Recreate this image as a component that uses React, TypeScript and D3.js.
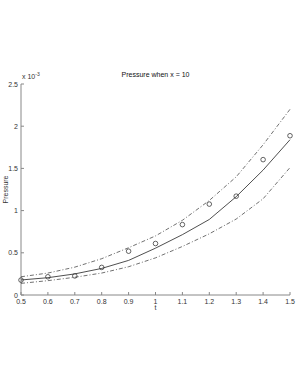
import { useEffect, useRef } from 'react';
import * as d3 from 'd3';

const tValues = [0.5, 0.6, 0.7, 0.8, 0.9, 1.0, 1.1, 1.2, 1.3, 1.4, 1.5];
const observed = [0.177, 0.216, 0.226, 0.327, 0.519, 0.61, 0.834, 1.077, 1.171, 1.604, 1.887];
const fitted = [0.178, 0.205, 0.25, 0.315, 0.41, 0.555, 0.715, 0.895, 1.165, 1.48, 1.84];
const upperBound = [0.216, 0.26, 0.33, 0.43, 0.56, 0.7, 0.885, 1.12, 1.4, 1.78, 2.2];
const lowerBound = [0.138, 0.17, 0.21, 0.26, 0.335, 0.44, 0.575, 0.725, 0.9, 1.14, 1.51];
const xTicks = [0.5, 0.6, 0.7, 0.8, 0.9, 1, 1.1, 1.2, 1.3, 1.4, 1.5];
const yTicks = [0, 0.5, 1, 1.5, 2, 2.5];

const W = 297;
const H = 384;

export default function App() {
  const ref = useRef<SVGSVGElement>(null);

  useEffect(() => {
    if (!ref.current) return;
    const svg = d3.select(ref.current);
    svg.selectAll('*').remove();

    const x = d3.scaleLinear().domain([0.5, 1.5]).range([21, 290]);
    const y = d3.scaleLinear().domain([0, 2.5]).range([295, 84]);
    const font = 'Liberation Sans, Arial, sans-serif';
    const axisColor = '#888';
    const textColor = '#333';

    svg.append('rect').attr('width', W).attr('height', H).attr('fill', '#fff');

    // axes (box off, ticks inside)
    svg.append('line').attr('x1', x(0.5)).attr('x2', x(1.5)).attr('y1', y(0)).attr('y2', y(0))
      .attr('stroke', axisColor).attr('stroke-width', 1);
    svg.append('line').attr('x1', x(0.5)).attr('x2', x(0.5)).attr('y1', y(0)).attr('y2', y(2.5))
      .attr('stroke', axisColor).attr('stroke-width', 1);

    xTicks.forEach((t) => {
      svg.append('line').attr('x1', x(t)).attr('x2', x(t)).attr('y1', y(0)).attr('y2', y(0) - 3)
        .attr('stroke', axisColor);
      svg.append('text').attr('x', x(t)).attr('y', y(0) + 9).attr('text-anchor', 'middle')
        .attr('font-family', font).attr('font-size', 7).attr('fill', textColor).text(String(t));
    });
    yTicks.forEach((v) => {
      svg.append('line').attr('x1', x(0.5)).attr('x2', x(0.5) + 3).attr('y1', y(v)).attr('y2', y(v))
        .attr('stroke', axisColor);
      svg.append('text').attr('x', x(0.5) - 3).attr('y', y(v) + 2.5).attr('text-anchor', 'end')
        .attr('font-family', font).attr('font-size', 7).attr('fill', textColor).text(String(v));
    });

    // exponent
    const ex = svg.append('text').attr('x', x(0.5) + 1).attr('y', 79)
      .attr('font-family', font).attr('font-size', 7).attr('fill', textColor);
    ex.append('tspan').text('x 10');
    ex.append('tspan').attr('dy', -3).attr('font-size', 5).text('-3');

    svg.append('text').attr('x', (x(0.5) + x(1.5)) / 2).attr('y', 77).attr('text-anchor', 'middle')
      .attr('font-family', font).attr('font-size', 7).attr('fill', '#111').text('Pressure when x = 10');
    svg.append('text').attr('x', (x(0.5) + x(1.5)) / 2).attr('y', 310).attr('text-anchor', 'middle')
      .attr('font-family', font).attr('font-size', 7).attr('fill', textColor).text('t');
    svg.append('text').attr('transform', `translate(8,${(y(0) + y(2.5)) / 2}) rotate(-90)`)
      .attr('text-anchor', 'middle').attr('font-family', font).attr('font-size', 7)
      .attr('fill', textColor).text('Pressure');

    const line = d3.line<number>().x((_, i) => x(tValues[i])).y((d) => y(d));

    svg.append('path').datum(fitted).attr('d', line).attr('fill', 'none')
      .attr('stroke', '#222').attr('stroke-width', 0.8);
    [upperBound, lowerBound].forEach((s) => {
      svg.append('path').datum(s).attr('d', line).attr('fill', 'none')
        .attr('stroke', '#333').attr('stroke-width', 0.7).attr('stroke-dasharray', '4,2,1,2');
    });

    svg.selectAll('circle.obs').data(observed).enter().append('circle')
      .attr('cx', (_, i) => x(tValues[i])).attr('cy', (d) => y(d)).attr('r', 2.3)
      .attr('fill', 'none').attr('stroke', '#222').attr('stroke-width', 0.7);
  }, []);

  return <svg ref={ref} width={W} height={H} style={{ position: 'absolute', left: 0, top: 0 }} />;
}
